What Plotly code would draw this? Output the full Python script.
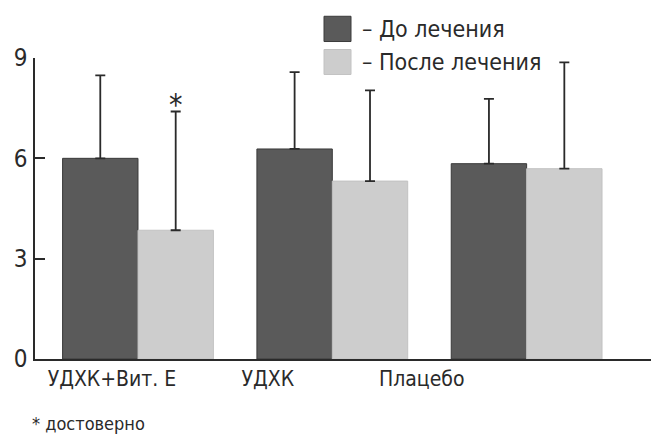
import plotly.graph_objects as go

categories = ["УДХК+Вит. Е", "УДХК", "Плацебо"]
series_names = ["– До лечения", "– После лечения"]
before_mean = [6.0, 6.28, 5.84]
before_sd = [2.48, 2.3, 1.94]
after_mean = [3.85, 5.32, 5.69]
after_sd = [3.55, 2.71, 3.18]
y_ticks = [0, 3, 6, 9]
footnote = "* достоверно"

FONT = "Liberation Sans Narrow, Arial Narrow, DejaVu Sans Condensed, sans-serif"
DARK = "#5a5a5a"
LIGHT = "#cdcdcd"
INK = "#2a2a2a"

xpos = list(range(len(categories)))

fig = go.Figure()
fig.add_trace(go.Bar(
    x=xpos, y=before_mean, name=series_names[0],
    marker=dict(color=DARK, line=dict(color="#3a3a3a", width=1)),
    error_y=dict(type="data", array=before_sd, arrayminus=[0]*3, symmetric=False,
                 color=INK, thickness=1.8, width=5),
    showlegend=False,
))
fig.add_trace(go.Bar(
    x=xpos, y=after_mean, name=series_names[1],
    marker=dict(color=LIGHT, line=dict(color="#c2c2c2", width=1)),
    error_y=dict(type="data", array=after_sd, arrayminus=[0]*3, symmetric=False,
                 color=INK, thickness=1.8, width=5),
    showlegend=False,
))

# category labels sit left of the group centres in the original
label_pos = [-0.134, 0.668, 1.46]

fig.update_layout(
    width=651, height=438,
    margin=dict(l=35, r=0, t=57.5, b=79, autoexpand=False),
    paper_bgcolor="white", plot_bgcolor="white",
    barmode="group", bargap=0.224, bargroupgap=0,
    font=dict(family=FONT, size=24, color=INK),
    xaxis=dict(range=[-0.53, 2.64], tickvals=label_pos, ticktext=categories,
               showline=True, linecolor=INK, linewidth=1.6, ticks="",
               showgrid=False, zeroline=False, tickfont=dict(size=21)),
    yaxis=dict(range=[0, 9], tickvals=y_ticks, showline=True, linecolor=INK,
               linewidth=1.6, ticks="inside", ticklen=10, tickwidth=1.6,
               tickcolor=INK, showgrid=False, zeroline=False,
               tickfont=dict(size=24), ticklabelstandoff=1),
    showlegend=False,
)

# legend boxes and texts
px_w, px_h = 616.0, 301.5
def px(xp):
    return (xp - 35) / px_w
def py(yp):
    return (359 - yp) / px_h

fig.add_shape(type="rect", xref="paper", yref="paper",
              x0=px(324), x1=px(351), y0=py(41), y1=py(15.7),
              fillcolor=DARK, line=dict(color="#3a3a3a", width=1))
fig.add_shape(type="rect", xref="paper", yref="paper",
              x0=px(324), x1=px(351), y0=py(74), y1=py(49),
              fillcolor=LIGHT, line=dict(color="#c2c2c2", width=1))
fig.add_annotation(text=series_names[0], xref="paper", yref="paper",
                   x=px(360), y=py(28), xanchor="left", yanchor="middle",
                   showarrow=False, font=dict(size=23))
fig.add_annotation(text=series_names[1], xref="paper", yref="paper",
                   x=px(360), y=py(62), xanchor="left", yanchor="middle",
                   showarrow=False, font=dict(size=23))

# significance marker
fig.add_annotation(text="*", x=xpos[0] + 0.194, y=after_mean[0] + after_sd[0],
                   xref="x", yref="y", yanchor="bottom", yshift=-12,
                   showarrow=False, font=dict(size=30))
fig.add_annotation(text=footnote, xref="paper", yref="paper",
                   x=px(30), y=py(424), xanchor="left", yanchor="middle",
                   showarrow=False, font=dict(size=18))

fig.write_html("out.html", config={"displayModeBar": False},
               post_script="document.body.style.margin='0';")
